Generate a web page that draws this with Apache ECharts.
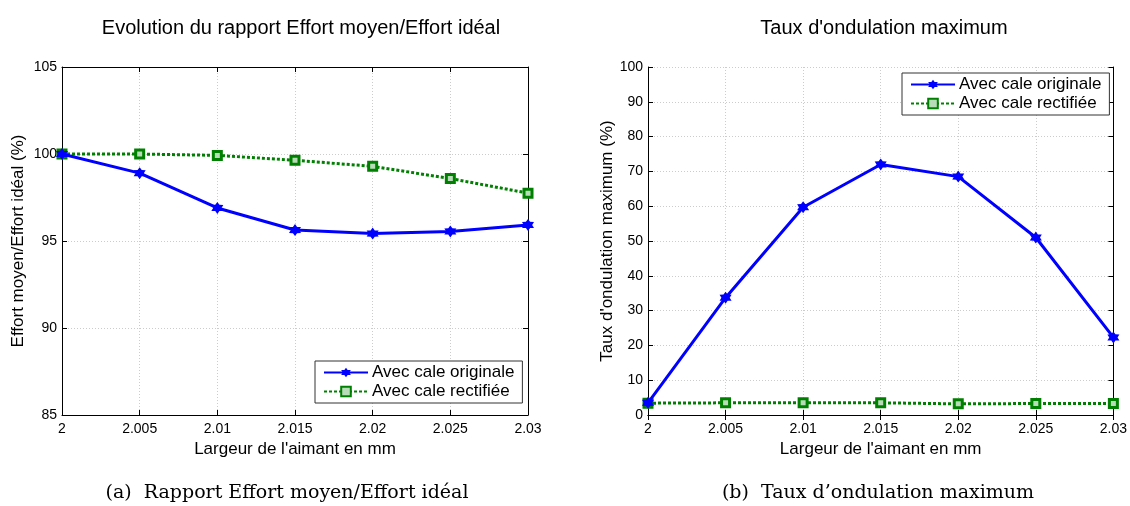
<!DOCTYPE html>
<html><head><meta charset="utf-8">
<script src="https://cdn.jsdelivr.net/npm/echarts@6/dist/echarts.min.js"></script>
<style>html,body{margin:0;padding:0;background:#fff}#c{width:1130px;height:506px}</style>
</head><body><div id="c"></div>
<script>
const categories = ['2','2.005','2.01','2.015','2.02','2.025','2.03'];
const effortOriginal = [100, 98.9, 96.9, 95.63, 95.43, 95.55, 95.92];
const effortRectifiee = [100, 100, 99.92, 99.64, 99.29, 98.59, 97.75];
const ondulOriginal = [3.5, 33.7, 59.7, 72.0, 68.5, 51.0, 22.3];
const ondulRectifiee = [3.4, 3.5, 3.5, 3.5, 3.2, 3.3, 3.3];
const seriesNames = ['Avec cale originale', 'Avec cale rectifiée'];

function hexagram(){
  const pts=[];
  for(let i=0;i<12;i++){
    const a=Math.PI/2+i*Math.PI/6;
    const r=(i%2===0)?10:6;
    pts.push((r*Math.cos(a)).toFixed(2)+' '+(-r*Math.sin(a)).toFixed(2));
  }
  return 'path://M'+pts.join(' L')+' Z';
}
const star = hexagram();
const FONT = 'Liberation Sans, Arial, sans-serif';
const BLUE = '#0000ff', GREEN = '#008000';

const chart = echarts.init(document.getElementById('c'), null, {renderer:'canvas'});

function xAxes(gi){
  return [{
    type:'category', gridIndex:gi, data:categories, boundaryGap:false, position:'bottom',
    name:'Largeur de l\'aimant en mm', nameLocation:'middle', nameGap:22,
    nameTextStyle:{fontFamily:FONT, fontSize:17, color:'#000'},
    axisLine:{lineStyle:{color:'#000', width:1}},
    axisTick:{inside:true, length:5, lineStyle:{color:'#000'}},
    axisLabel:{fontFamily:FONT, fontSize:14, color:'#000', margin:7},
    splitLine:{show:true, lineStyle:{color:'#cccccc', type:[1,2]}}
  },{
    type:'category', gridIndex:gi, data:categories, boundaryGap:false, position:'top',
    axisLine:{lineStyle:{color:'#000', width:1}},
    axisTick:{inside:true, length:5, lineStyle:{color:'#000'}},
    axisLabel:{show:false}, splitLine:{show:false}
  }];
}
function yAxes(gi, min, max, interval, name){
  return [{
    type:'value', gridIndex:gi, min:min, max:max, interval:interval, position:'left',
    name:name, nameLocation:'middle', nameGap: gi===0?35:32,
    nameTextStyle:{fontFamily:FONT, fontSize:17, color:'#000'},
    axisLine:{show:true, lineStyle:{color:'#000', width:1}},
    axisTick:{show:true, inside:true, length:5, lineStyle:{color:'#000'}},
    axisLabel:{fontFamily:FONT, fontSize:14, color:'#000', margin:5},
    splitLine:{show:true, lineStyle:{color:'#cccccc', type:[1,2]}}
  },{
    type:'value', gridIndex:gi, min:min, max:max, interval:interval, position:'right',
    axisLine:{show:true, lineStyle:{color:'#000', width:1}},
    axisTick:{show:true, inside:true, length:5, lineStyle:{color:'#000'}},
    axisLabel:{show:false}, splitLine:{show:false}
  }];
}
function mkSeries(name, data, xi, yi, orig){
  return orig ? {
    name:name, type:'line', xAxisIndex:xi, yAxisIndex:yi, data:data,
    symbol:star, symbolSize:12, showAllSymbol:true,
    lineStyle:{color:BLUE, width:3}, itemStyle:{color:BLUE}, z:3, animation:false
  } : {
    name:name, type:'line', xAxisIndex:xi, yAxisIndex:yi, data:data,
    symbol:'rect', symbolSize:8, showAllSymbol:true,
    lineStyle:{color:GREEN, width:3, type:[3,2]},
    itemStyle:{color:'#b8dcb8', borderColor:GREEN, borderWidth:3}, z:2, animation:false
  };
}
const legendCommon = {
  orient:'vertical', backgroundColor:'#fff', borderColor:'#333', borderWidth:1,
  padding:[3,8,3,8], itemGap:2, itemWidth:44, itemHeight:12,
  textStyle:{fontFamily:FONT, fontSize:17, color:'#000', padding:[0,0,0,-1]},
  data:seriesNames
};

chart.setOption({
  backgroundColor:'#fff',
  animation:false,
  title:[
    {text:'Evolution du rapport Effort moyen/Effort idéal', left:296, top:13, textAlign:'center',
     textStyle:{fontFamily:FONT, fontSize:20, fontWeight:'normal', color:'#000'}},
    {text:'Taux d\'ondulation maximum', left:879, top:13, textAlign:'center',
     textStyle:{fontFamily:FONT, fontSize:20, fontWeight:'normal', color:'#000'}},
    {text:'(a)  Rapport Effort moyen/Effort idéal', left:282, top:479, textAlign:'center',
     textStyle:{fontFamily:'DejaVu Serif, Liberation Serif, serif', fontSize:19, fontWeight:'normal', color:'#000'}},
    {text:'(b)  Taux d\u2019ondulation maximum', left:873, top:479, textAlign:'center',
     textStyle:{fontFamily:'DejaVu Serif, Liberation Serif, serif', fontSize:19, fontWeight:'normal', color:'#000'}}
  ],
  grid:[
    {left:62, top:67, width:466, height:348, show:false},
    {left:648, top:67, width:467, height:348, show:false}
  ],
  xAxis:[...xAxes(0), ...xAxes(1)],
  yAxis:[...yAxes(0,85,105,5,'Effort moyen/Effort idéal (%)'), ...yAxes(1,0,100,10,'Taux d\'ondulation maximum (%)')],
  legend:[
    Object.assign({}, legendCommon, {left:315, top:361}),
    Object.assign({}, legendCommon, {left:902, top:73})
  ],
  series:[
    mkSeries(seriesNames[0], effortOriginal, 0, 0, true),
    mkSeries(seriesNames[1], effortRectifiee, 0, 0, false),
    mkSeries(seriesNames[0], ondulOriginal, 2, 2, true),
    mkSeries(seriesNames[1], ondulRectifiee, 2, 2, false)
  ]
});
</script></body></html>
